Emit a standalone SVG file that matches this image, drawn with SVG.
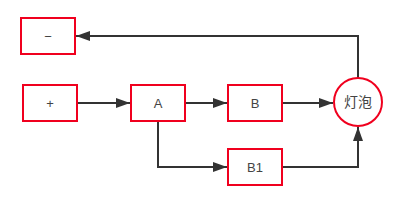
<svg xmlns="http://www.w3.org/2000/svg" width="396" height="205" viewBox="0 0 396 205">
<style>
.n{fill:#fff;stroke:#f0001e;stroke-width:2}
.t{font-family:"Liberation Sans","Noto Sans CJK SC",sans-serif;font-size:13px;fill:#444;text-anchor:middle;dominant-baseline:central}
.c{fill:none;stroke:#333;stroke-width:2}
</style>
<defs>
<marker id="ah" markerWidth="14" markerHeight="10" refX="14" refY="5" orient="auto" markerUnits="userSpaceOnUse">
<path d="M0,0 L14,5 L0,10 Z" fill="#333"/>
</marker>
</defs>
<rect width="396" height="205" fill="#fff"/>
<g id="connectors">
<path class="c" d="M77,103 H130" marker-end="url(#ah)"/>
<path class="c" d="M185,103 H227" marker-end="url(#ah)"/>
<path class="c" d="M158,121 V167 H227" marker-end="url(#ah)"/>
<path class="c" d="M282,103 H333" marker-end="url(#ah)"/>
<path class="c" d="M282,167 H358 V127" marker-end="url(#ah)"/>
<path class="c" d="M358,78 V36 H76" marker-end="url(#ah)"/>
</g>
<g id="minus"><rect class="n" x="21" y="18" width="54" height="36"/><text class="t" x="48" y="36">−</text></g>
<g id="plus"><rect class="n" x="23" y="85" width="54" height="36"/><text class="t" x="50" y="103">+</text></g>
<g id="A"><rect class="n" x="131" y="85" width="54" height="36"/><text class="t" x="158" y="103">A</text></g>
<g id="B"><rect class="n" x="228" y="85" width="54" height="36"/><text class="t" x="255" y="103">B</text></g>
<g id="B1"><rect class="n" x="228" y="149" width="54" height="36"/><text class="t" x="255" y="167">B1</text></g>
<g id="bulb"><circle class="n" cx="358" cy="102" r="24"/><text class="t" x="358" y="102" style="font-size:14px">灯泡</text></g>
</svg>
